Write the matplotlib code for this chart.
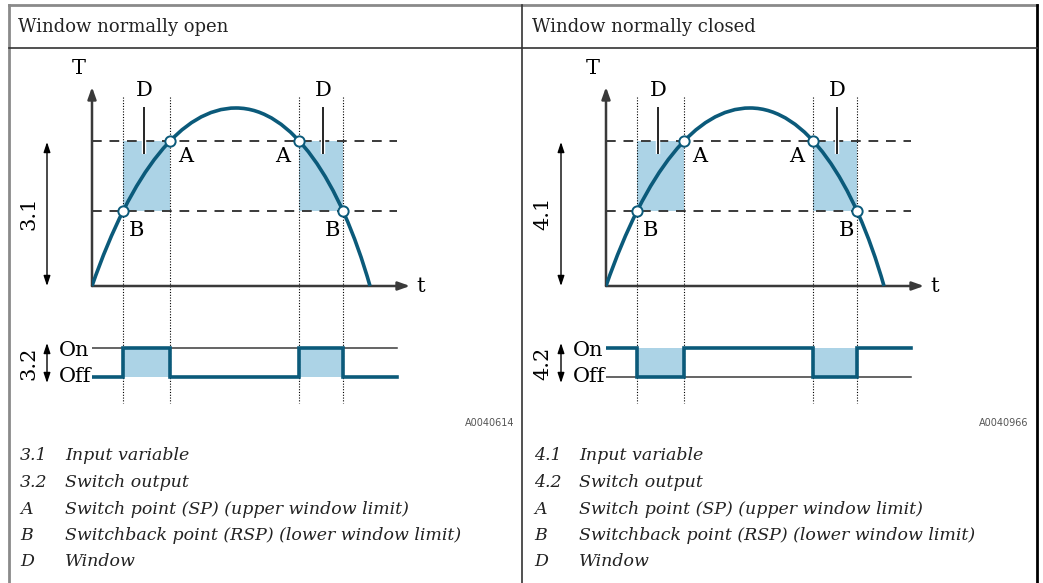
import matplotlib
matplotlib.use("Agg")
import matplotlib.pyplot as plt
from matplotlib.path import Path
from matplotlib.patches import PathPatch, Rectangle
import matplotlib.patheffects as pe
import numpy as np

# ---------------- data (diagram units: 1 unit ~ 10 px) ----------------
titles = ["Window normally open", "Window normally closed"]
codes = ["A0040614", "A0040966"]
panel_keys = [["3.1", "3.2", "A", "B", "D"], ["4.1", "4.2", "A", "B", "D"]]
legend_desc = ["Input variable", "Switch output",
               "Switch point (SP) (upper window limit)",
               "Switchback point (RSP) (lower window limit)",
               "Window"]

switch_times = [3.1, 7.8, 20.7, 25.1]      # B, A, A, B  (dotted verticals)
level_upper = 14.5                          # switch point SP
level_lower = 7.5                           # switchback point RSP
# temperature curve: two cubic Bezier segments (vertices + control points)
curve_x = [0.0, 4.0, 9.0, 14.4, 20.0, 24.8, 27.8]
curve_y = [0.0, 11.5, 17.8, 17.8, 17.8, 10.5, 0.0]
points_t = [3.1, 7.8, 20.7, 25.1]
points_T = [7.5, 14.5, 14.5, 7.5]
t_end = 30.5
on_level, off_level = -6.2, -9.1
edges = [0.0, 3.1, 7.8, 20.7, 25.1, 30.5]
states_open = [0, 1, 0, 1, 0]     # output for "normally open"
states_closed = [1, 0, 1, 0, 1]   # output for "normally closed"

TEAL = "#0b5a7a"
SHADE = "#acd3e6"
AX = "#3a3a3a"
SERIF = "DejaVu Serif"

W, H = 1043, 583
fig = plt.figure(figsize=(W / 100, H / 100), dpi=100)
bg = fig.add_axes([0, 0, 1, 1])
bg.set_xlim(0, W)
bg.set_ylim(H, 0)
bg.axis("off")

# table lines
bg.plot([9, 1037], [5, 5], color="#8a8a8a", lw=2)
bg.plot([9, 9], [5, H], color="#8a8a8a", lw=2)
bg.plot([1037, 1037], [5, H], color="black", lw=2)
bg.plot([522, 522], [5, H], color="#333333", lw=1.2)
bg.plot([9, 1037], [48, 48], color="#333333", lw=1.2)

def add_panel(p, states):
    dx = 514 * p
    bg.text(18 + dx, 27, titles[p], fontsize=13, family=SERIF, va="center", ha="left", color="#222222")
    # diagram axes: x px 92..425, y px 80..400 ; data: t=(x-92)/10, T=(286-y)/10
    x0, x1, y0, y1 = 92 + dx, 430 + dx, 80, 410
    ax = fig.add_axes([x0 / W, 1 - y1 / H, (x1 - x0) / W, (y1 - y0) / H])
    ax.set_xlim(0, (x1 - x0) / 10)
    ax.set_ylim((286 - y1) / 10, (286 - y0) / 10)
    ax.axis("off")

    # shaded windows
    for a, b in [(switch_times[0], switch_times[1]), (switch_times[2], switch_times[3])]:
        ax.add_patch(Rectangle((a, level_lower), b - a, level_upper - level_lower,
                               facecolor=SHADE, edgecolor="none", zorder=1))
    # dashed levels
    for lv in (level_upper, level_lower):
        ax.plot([0, t_end], [lv, lv], color=AX, lw=1.4, dashes=(5, 4), zorder=2)
    # dotted verticals
    for t in switch_times:
        ax.plot([t, t], [18.9, -11.7], color="black", lw=0.8, ls=(0, (1, 1.5)), zorder=2, clip_on=False)
    # axes arrows
    ax.annotate("", xy=(0, 19.9), xytext=(0, 0),
                arrowprops=dict(arrowstyle="-|>,head_length=0.7,head_width=0.25", color=AX, lw=1.8, shrinkA=0, shrinkB=0))
    ax.annotate("", xy=(31.8, 0), xytext=(0, 0),
                arrowprops=dict(arrowstyle="-|>,head_length=0.7,head_width=0.25", color=AX, lw=1.8, shrinkA=0, shrinkB=0))
    ax.text(-1.3, 21.8, "T", fontsize=15, family=SERIF, ha="center", va="center", clip_on=False)
    ax.text(32.9, 0, "t", fontsize=15, family=SERIF, ha="center", va="center", clip_on=False)

    # curve
    verts = list(zip(curve_x, curve_y))
    codes_ = [Path.MOVETO] + [Path.CURVE4] * 6
    ax.add_patch(PathPatch(Path(verts, codes_), facecolor="none", edgecolor=TEAL, lw=2.6, zorder=3, capstyle="butt"))
    ax.scatter(points_t, points_T, s=55, facecolor="white", edgecolor=TEAL, linewidths=1.4, zorder=4)

    # labels
    for (t, T, s) in [(9.4, 12.9, "A"), (19.1, 12.9, "A"), (4.4, 5.6, "B"), (24.0, 5.6, "B"),
                      (5.2, 19.5, "D"), (23.1, 19.5, "D")]:
        ax.text(t, T, s, fontsize=15, family=SERIF, ha="center", va="center", zorder=5)
    for t in (5.2, 23.1):
        ax.plot([t, t], [17.9, 13.2], color="black", lw=1.2, zorder=5, solid_capstyle="butt",
                path_effects=[pe.Stroke(linewidth=3.2, foreground="white"), pe.Normal()])

    # switch output
    ref_level = on_level if p == 0 else off_level
    ax.plot([0, t_end], [ref_level, ref_level], color=AX, lw=1.1, zorder=2)
    levels = [on_level if s else off_level for s in states]
    for i in range(len(states)):
        if (states[i] == 1) == (p == 0):
            ax.add_patch(Rectangle((edges[i], off_level), edges[i + 1] - edges[i], on_level - off_level,
                                   facecolor=SHADE, edgecolor="none", zorder=1))
    xs = []
    ys = []
    for i, lv in enumerate(levels):
        xs += [edges[i], edges[i + 1]]
        ys += [lv, lv]
    ax.plot(xs, ys, color=TEAL, lw=2.6, zorder=3, solid_joinstyle="miter")

    # dimension arrows and labels (figure px)
    bg.annotate("", xy=(47 + dx, 142), xytext=(47 + dx, 286),
                arrowprops=dict(arrowstyle="<|-|>,head_length=0.6,head_width=0.2", color="black", lw=1, shrinkA=0, shrinkB=0))
    bg.text(29 + dx, 213, panel_keys[p][0], rotation=90, fontsize=15, family=SERIF, ha="center", va="center")
    bg.annotate("", xy=(47 + dx, 343), xytext=(47 + dx, 383),
                arrowprops=dict(arrowstyle="<|-|>,head_length=0.6,head_width=0.2", color="black", lw=1, shrinkA=0, shrinkB=0))
    bg.text(29 + dx, 363, panel_keys[p][1], rotation=90, fontsize=15, family=SERIF, ha="center", va="center")
    bg.text(89 + dx, 350, "On", fontsize=15, family=SERIF, ha="right", va="center")
    bg.text(91 + dx, 377, "Off", fontsize=15, family=SERIF, ha="right", va="center")
    bg.text(514 + dx, 423, codes[p], fontsize=7, family="DejaVu Sans", ha="right", va="center", color="#555555")

    # legend
    for i, (k, d) in enumerate(zip(panel_keys[p], legend_desc)):
        y = 456 + i * 26.5
        bg.text(20 + dx, y, k, fontsize=12.5, family=SERIF, style="italic", ha="left", va="center", color="#222222")
        bg.text(65 + dx, y, d, fontsize=12.5, family=SERIF, style="italic", ha="left", va="center", color="#222222")

add_panel(0, states_open)
add_panel(1, states_closed)

fig.savefig("out.png", dpi=100)
